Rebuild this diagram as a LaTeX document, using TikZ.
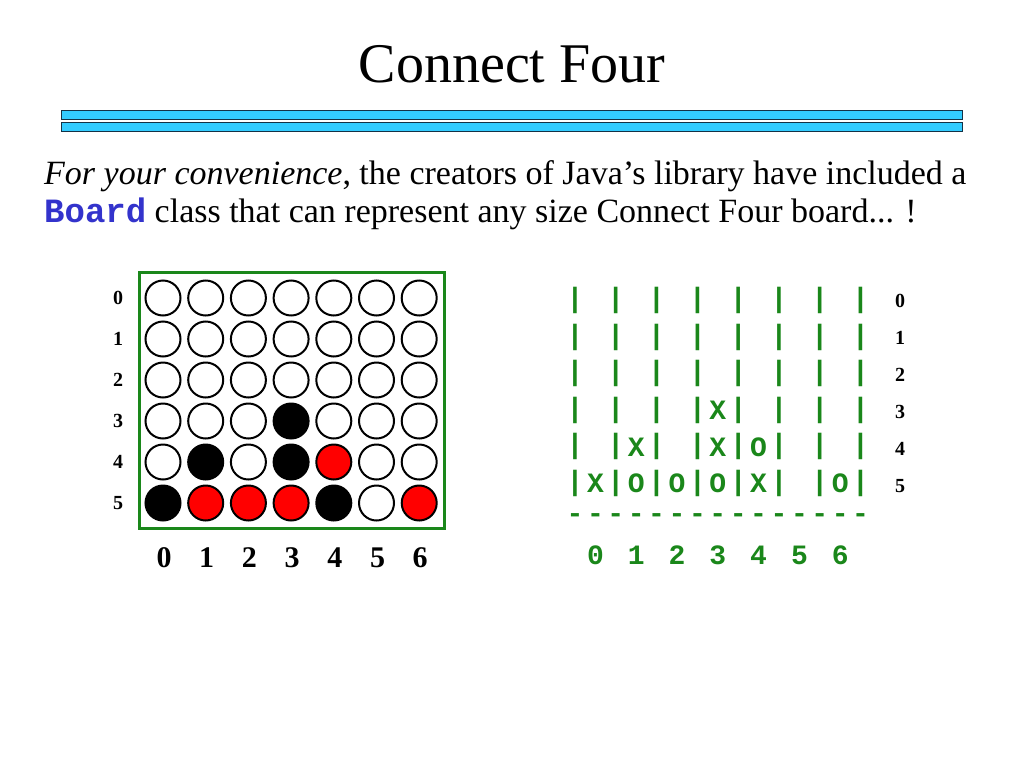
\documentclass[tikz,border=0pt]{standalone}
\usepackage{fontspec}
\setmainfont{Liberation Serif}
\newfontfamily\codefont{Liberation Mono}
\usetikzlibrary{positioning}

\definecolor{barblue}{RGB}{51,204,255}
\definecolor{bardark}{RGB}{20,50,70}
\definecolor{boardgreen}{RGB}{26,135,26}
\definecolor{codeblue}{RGB}{51,51,204}

\tikzset{
  disc/.style={circle, draw=black, line width=2pt, minimum size=35pt, inner sep=0pt},
  disc-w/.style={fill=white},
  disc-b/.style={fill=black},
  disc-r/.style={fill=red},
  rowlabel/.style={font=\fontsize{20}{22}\selectfont\bfseries, inner sep=0pt},
  collabel/.style={font=\fontsize{30}{32}\selectfont\bfseries, inner sep=0pt},
  asciicell/.style={font=\codefont\fontsize{28}{30}\selectfont\bfseries, text=boardgreen, inner sep=0pt}
}

\begin{document}
\begin{tikzpicture}[x=1pt, y=-1pt]
  \useasboundingbox[fill=white] (0,0) rectangle (1024,768);

  % title and rule
  \node[anchor=base, font=\fontsize{56}{60}\selectfont] (title) at (512,82) {Connect Four};
  \draw[fill=barblue, draw=bardark, line width=1pt] (61,110) rectangle (962,119);
  \draw[fill=barblue, draw=bardark, line width=1pt] (61,122) rectangle (962,131);

  % intro text
  \node[anchor=base west, inner sep=0pt, font=\fontsize{34}{38}\selectfont] (line1) at (44,184)
    {\textit{For your convenience}, the creators of Java’s library have included a};
  \node[anchor=base west, inner sep=0pt, font=\fontsize{34}{38}\selectfont] (line2) at (44,222)
    {{\codefont\bfseries\color{codeblue}Board} class that can represent any size Connect Four board... !};

  % left board
  \draw[boardgreen, line width=3pt] (139,272) rectangle (444,528);
  \foreach \cells [count=\r from 0] in {{w,w,w,w,w,w,w},{w,w,w,w,w,w,w},{w,w,w,w,w,w,w},
      {w,w,w,b,w,w,w},{w,b,w,b,r,w,w},{b,r,r,r,b,w,r}} {
    \node[rowlabel] (left-row-\r) at (118,298+41*\r) {\r};
    \foreach \c [count=\k from 0] in \cells
      \node[disc, disc-\c] (disc-\r-\k) at (163+42.7*\k,298+41*\r) {};
  }
  \foreach \k in {0,...,6}
    \node[collabel] (left-col-\k) at (164+42.7*\k,558) {\k};

  % right board as text
  \foreach \r in {0,...,5} {
    \foreach \k in {0,...,7}
      \node[asciicell] (bar-\r-\k) at (575+40.8*\k,300.5+36.6*\r) {|};
    \node[rowlabel] (right-row-\r) at (900,301+37*\r) {\r};
  }
  \foreach \k/\r/\t in {3/3/X, 1/4/X, 3/4/X, 4/4/O, 0/5/X, 1/5/O, 2/5/O, 3/5/O, 4/5/X, 6/5/O}
    \node[asciicell] (piece-\r-\k) at (595.4+40.8*\k,300.5+36.6*\r) {\t};
  \foreach \i in {0,...,14}
    \node[asciicell] (dash-\i) at (575+20.4*\i,518) {-};
  \foreach \k in {0,...,6}
    \node[asciicell] (right-col-\k) at (595.4+40.8*\k,555) {\k};
\end{tikzpicture}
\end{document}
